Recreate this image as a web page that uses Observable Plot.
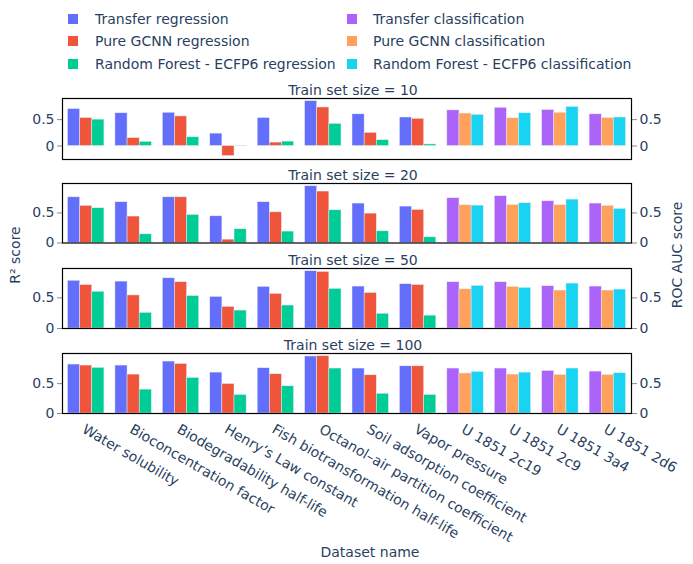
<!DOCTYPE html>
<html><head><meta charset="utf-8">
<script src="https://cdn.jsdelivr.net/npm/d3@7"></script>
<script src="https://cdn.jsdelivr.net/npm/@observablehq/plot@0.6"></script>
<style>
html,body{margin:0;padding:0;background:#fff}
body{width:693px;height:564px;position:relative;overflow:hidden;font-family:"DejaVu Sans",sans-serif;color:#2a3f5f}
.chart{position:absolute;left:0}
.leg{position:absolute;font-size:14px;line-height:16px;white-space:nowrap}
.sw{position:absolute;width:10px;height:10px}
.ttl{position:absolute;font-size:14px;white-space:nowrap;line-height:16px}
</style></head><body>
<script>
const datasets = ["Water solubility","Bioconcentration factor","Biodegradability half-life","Henry’s Law constant","Fish biotransformation half-life","Octanol–air partition coefficient","Soil adsorption coefficient","Vapor pressure","U 1851 2c19","U 1851 2c9","U 1851 3a4","U 1851 2d6"];
const nRegression = 8;
const models = ["Transfer","Pure GCNN","Random Forest - ECFP6"];
const regressionSeries = ["Transfer regression","Pure GCNN regression","Random Forest - ECFP6 regression"];
const classificationSeries = ["Transfer classification","Pure GCNN classification","Random Forest - ECFP6 classification"];
const seriesColors = ["#636efa","#EF553B","#00cc96","#ab63fa","#FFA15A","#19d3f3"];
const trainSizes = [10,20,50,100];

const transfer10 = [0.70,0.62,0.63,0.235,0.53,0.85,0.60,0.54,0.675,0.725,0.68,0.60];
const transfer20 = [0.76,0.678,0.76,0.444,0.678,0.944,0.656,0.606,0.744,0.778,0.694,0.656];
const transfer50 = [0.78,0.766,0.82,0.516,0.68,0.935,0.685,0.723,0.755,0.755,0.69,0.685];
const transfer100 = [0.82,0.803,0.87,0.685,0.758,0.955,0.753,0.79,0.753,0.753,0.713,0.702];

const gcnn10 = [0.53,0.15,0.56,-0.19,0.065,0.73,0.25,0.515,0.615,0.525,0.63,0.53];
const gcnn20 = [0.617,0.44,0.76,0.056,0.51,0.856,0.489,0.55,0.628,0.633,0.628,0.617];
const gcnn50 = [0.71,0.54,0.755,0.353,0.565,0.924,0.58,0.71,0.64,0.68,0.62,0.62];
const gcnn100 = [0.803,0.652,0.83,0.494,0.657,0.96,0.64,0.79,0.67,0.652,0.646,0.646];

const rf10 = [0.50,0.08,0.165,0.005,0.084,0.42,0.11,0.03,0.59,0.62,0.74,0.54];
const rf20 = [0.578,0.144,0.467,0.228,0.19,0.544,0.194,0.094,0.622,0.661,0.722,0.567];
const rf50 = [0.60,0.255,0.53,0.293,0.375,0.647,0.24,0.21,0.696,0.663,0.734,0.636];
const rf100 = [0.764,0.40,0.595,0.31,0.455,0.753,0.33,0.31,0.697,0.685,0.753,0.674];

const yTicks = [0, 0.5];
const yTickLabels = ["0", "0.5"];
const yDomains = [[-0.255,0.9],[0,0.99],[0,0.98],[0,1.005]];

const transfer = [transfer10,transfer20,transfer50,transfer100];
const gcnn = [gcnn10,gcnn20,gcnn50,gcnn100];
const rf = [rf10,rf20,rf50,rf100];
const allSeries = [...regressionSeries, ...classificationSeries];

// legend
const legendRows = [19, 41.3, 63.5];
regressionSeries.forEach((s,i)=>addLegend(s, seriesColors[i], 68, 95, legendRows[i]));
classificationSeries.forEach((s,i)=>addLegend(s, seriesColors[i+3], 347, 373, legendRows[i]));
function addLegend(label, color, sx, tx, cy){
  const sw = document.createElement("div"); sw.className="sw";
  sw.style.left = sx+"px"; sw.style.top = (cy-5)+"px"; sw.style.background = color;
  document.body.appendChild(sw);
  const t = document.createElement("div"); t.className="leg"; t.textContent = label;
  t.style.left = tx+"px"; t.style.top = (cy-8)+"px";
  document.body.appendChild(t);
}

const panelTops = [98, 182.5, 268, 353];
const panelHeights = [61, 59.5, 60, 60];

function makeChart(k){
  const vals = [transfer[k], gcnn[k], rf[k]];
  const rows = [];
  datasets.forEach((d,i)=>models.forEach((m,j)=>rows.push({
    dataset:d, model:m, value:vals[j][i],
    series: (i < nRegression ? regressionSeries : classificationSeries)[j]
  })));
  const last = k === trainSizes.length-1;
  const mt = 26, ph = panelHeights[k], mb = last ? 151 : 3;
  const axisStyle = {ticks: yTicks, tickFormat: d => yTickLabels[yTicks.indexOf(d)], tickSize: 5, tickPadding: 3, label: null, fontSize: 14, fill: "#2a3f5f", stroke: "#888"};
  const marks = [
    Plot.barY(rows, {fx:"dataset", x:"model", y:"value", fill:"series", stroke:"#E5ECF6", strokeWidth:0.5}),
    Plot.axisY({anchor:"left", ...axisStyle}),
    Plot.axisY({anchor:"right", ...axisStyle}),
    Plot.frame({facet:"super", stroke:"#000", strokeWidth:1.2}),
    Plot.text([`Train set size = ${trainSizes[k]}`], {text: d=>d, facet:"super", frameAnchor:"top", dy:-13, dx:6, fontSize:14, fill:"#2a3f5f"})
  ];
  if (last) marks.push(Plot.axisFx({anchor:"bottom", tickRotate:30, textAnchor:"start", lineAnchor:"top", tickSize:0, tickPadding:10, label:null, fontSize:14, fill:"#2a3f5f"}));
  const fxOpts = {domain: datasets, padding: 0, round: false};
  if (!last) fxOpts.axis = null;
  const svg = Plot.plot({
    width: 693, height: mt+ph+mb, marginTop: mt, marginBottom: mb, marginLeft: 62, marginRight: 62,
    fx: fxOpts,
    x: {domain: models, paddingInner: 0, paddingOuter: 0.454, round: false, axis: null},
    y: {domain: yDomains[k]},
    color: {domain: allSeries, range: seriesColors},
    style: {fontFamily: '"DejaVu Sans", sans-serif', fontSize: "14px", color: "#2a3f5f", background: "transparent", overflow: "visible"},
    marks
  });
  svg.classList.add("chart");
  svg.style.top = (panelTops[k]-mt)+"px";
  document.body.appendChild(svg);
}
trainSizes.forEach((s,k)=>makeChart(k));

function addTitle(text, cx, cy, rotate){
  const t = document.createElement("div"); t.className="ttl"; t.textContent = text;
  t.style.left = cx+"px"; t.style.top = cy+"px";
  t.style.transform = `translate(-50%,-50%)` + (rotate ? ` rotate(${rotate}deg)` : "");
  document.body.appendChild(t);
}
addTitle("R² score", 15, 255, -90);
addTitle("ROC AUC score", 677, 255, -90);
addTitle("Dataset name", 370, 552, 0);
</script>
</body></html>
